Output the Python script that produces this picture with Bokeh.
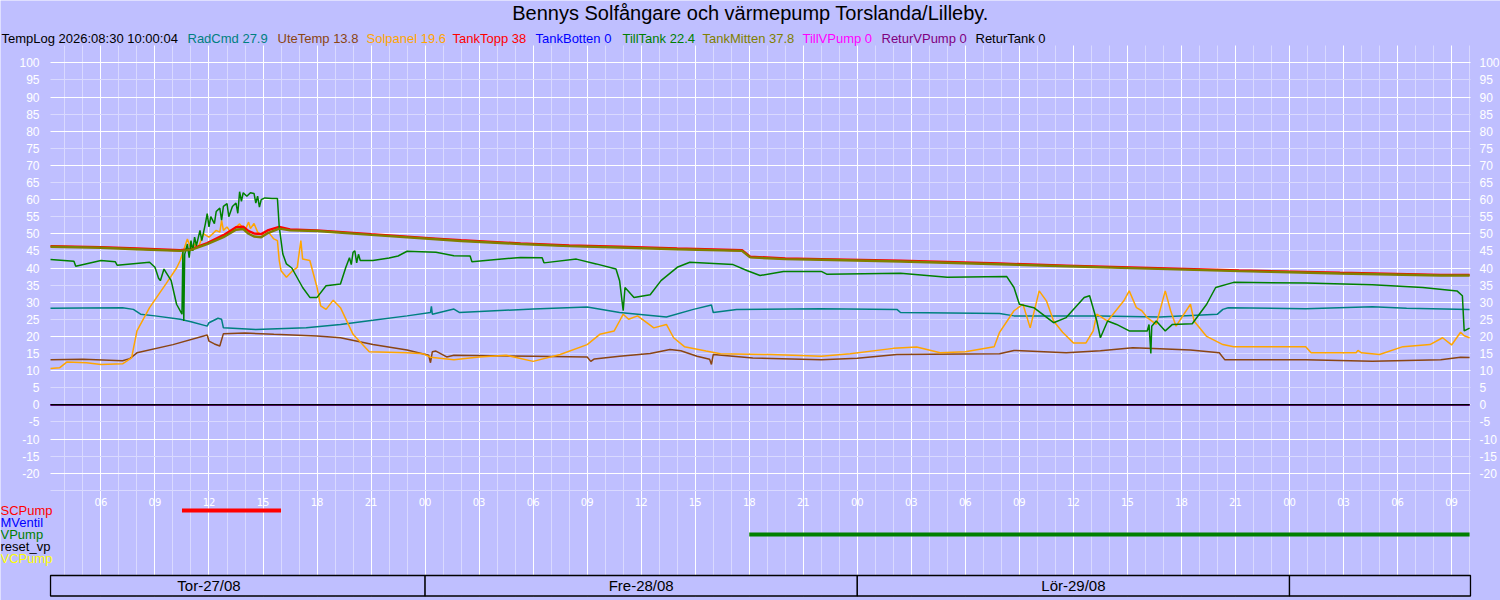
from bokeh.plotting import figure
from bokeh.models import Range1d, LinearAxis, FixedTicker, Label
from bokeh.core.properties import value
from bokeh.embed import file_html
from bokeh.resources import INLINE

# ---------------- data (time = hours since 2026-08-27 00:00) ----------------
title_text = "Bennys Solfångare och värmepump Torslanda/Lilleby."
templog_text = "TempLog 2026:08:30 10:00:04"

series_names = ["RadCmd", "UteTemp", "Solpanel", "TankTopp", "TankBotten",
                "TillTank", "TankMitten", "TillVPump", "ReturVPump", "ReturTank"]
series_colors = ["#008080", "#8B4513", "#FFA500", "#FF0000", "#0000FF",
                 "#008000", "#808000", "#FF00FF", "#800080", "#000000"]
last_values = [27.9, 13.8, 19.6, 38, 0, 22.4, 37.8, 0, 0, 0]

radcmd_t = [3.2, 5, 7.2, 7.8, 8.2, 9, 10.4, 11.0, 11.9, 12.0, 12.5, 12.7, 12.8, 14.6, 17.4, 19.3,
            21.1, 23, 24.3, 24.35, 24.4, 25.6, 25.9, 30, 33, 34.8, 37.4, 38.9, 39.9, 40.0, 41.3,
            46, 50.2, 50.4, 55.9, 56.7, 61.5, 64.8, 68, 68.3, 68.6, 72.9, 76.6, 78.5, 82]
radcmd_v = [28.2, 28.3, 28.4, 27.9, 26.5, 26.0, 25.0, 24.3, 23.0, 24.0, 25.3, 25.0, 22.5, 22.0, 22.5, 23.5,
            24.7, 26.0, 27.0, 28.8, 26.5, 28.0, 27.0, 28.0, 28.6, 27.0, 25.7, 27.9, 29.2, 27.0, 27.9,
            28.1, 27.9, 27.0, 26.7, 26.0, 26.0, 25.7, 26.5, 27.9, 28.4, 28.1, 28.7, 28.2, 27.9]

ute_t = [3.2, 5, 7.2, 7.6, 8.0, 10, 11.9, 12.0, 12.3, 12.6, 12.8, 14, 15.6, 18, 19.3, 21.1, 23,
         24.2, 24.3, 24.4, 24.6, 25.2, 25.6, 30, 33, 33.2, 33.4, 34.8, 36.5, 37.6, 38.2, 39.1, 39.8,
         39.9, 40.0, 42.2, 46, 48, 50.2, 55.9, 56.7, 59.6, 61.5, 63.3, 64.8, 66.5, 68.1, 68.4, 72.9,
         76.6, 80.4, 81.5, 82]
ute_v = [13.2, 13.3, 12.9, 13.5, 15.2, 17.6, 20.4, 18.6, 17.8, 17.2, 20.8, 21.0, 20.6, 20.1, 19.6, 17.6, 16.0,
         14.5, 12.3, 15.5, 15.7, 14.0, 14.5, 14.2, 14.0, 12.7, 13.4, 14.2, 15.0, 16.2, 15.8, 14.2, 13.3,
         11.8, 14.7, 13.7, 13.2, 13.6, 14.7, 14.9, 15.9, 15.2, 15.8, 16.7, 16.4, 16.0, 15.2, 13.2, 13.2,
         12.7, 13.2, 13.9, 13.8]

sol_t = [3.2, 3.7, 4.1, 5.2, 6, 7.2, 7.7, 8.0, 8.7, 9.6, 10.2, 10.4, 10.8, 11.0, 11.2, 11.4, 11.7,
         12.0, 12.4, 12.6, 12.7, 12.8, 13.0, 13.2, 13.5, 13.7, 14.0, 14.2, 14.3, 14.5, 14.7, 15.0,
         15.3, 15.6, 15.8, 15.9, 16.0, 16.3, 16.6, 16.9, 17.1, 17.2, 17.6, 18.0, 18.2, 18.5, 18.9,
         19.3, 20.0, 20.9, 23.0, 23.9, 24.3, 25.6, 27, 28.5, 30.0, 31.5, 33.0, 33.7, 34.5, 34.8,
         35.0, 35.3, 35.8, 36.7, 37.4, 37.8, 38.4, 39.6, 40.4, 43.2, 46, 47.6, 50, 51.3, 52.6, 54,
         55.6, 55.9, 56.7, 57.2, 57.6, 58.1, 58.5, 58.9, 59.4, 60.0, 60.7, 61.1, 61.3, 61.9, 62.8,
         63.1, 63.5, 63.8, 64.1, 64.6, 65.1, 65.4, 65.7, 66.5, 66.7, 67.4, 68.3, 68.9, 72.9, 73.2,
         75.7, 75.8, 76.0, 77, 78.3, 79.8, 80.5, 81.0, 81.5, 81.7, 82]
sol_v = [10.6, 10.8, 12.5, 12.3, 11.8, 12.0, 13.7, 21.6, 28.4, 35.3, 40.0, 42.2, 48.5, 45.6, 47.0, 46.0, 50.0,
         49.0, 51.0, 50.5, 53.9, 51.0, 52.0, 50.5, 52.0, 52.9, 51.0, 53.4, 51.5, 53.0, 50.5, 49.5,
         50.5, 48.5, 48.0, 42.2, 39.2, 37.3, 39.0, 40.2, 48.0, 42.6, 42.2, 34.3, 28.9, 27.9, 30.6,
         28.4, 20.6, 15.5, 15.2, 14.9, 13.9, 13.2, 14.0, 14.5, 12.7, 14.7, 17.6, 20.6, 21.6, 24.5,
         26.5, 25.0, 26.0, 22.5, 23.5, 19.6, 17.0, 15.7, 14.9, 14.7, 14.2, 14.9, 16.5, 16.9, 15.2, 15.5,
         17.0, 21.2, 27.5, 29.4, 22.5, 33.3, 30.4, 24.5, 21.2, 18.1, 18.1, 21.6, 26.5, 24.5, 30.4,
         33.3, 28.4, 27.5, 25.5, 23.5, 33.3, 27.5, 23.0, 29.4, 24.5, 20.0, 17.6, 17.0, 17.0, 15.2,
         15.2, 15.9, 15.2, 14.7, 17.0, 17.6, 19.6, 17.5, 21.2, 20.2, 19.6]

topp_t = [3.2, 6, 8, 10.4, 11.0, 11.9, 12.8, 13.5, 13.9, 14.2, 14.5, 14.9, 15.3, 15.9, 16.5, 18, 21,
          24.6, 26, 29.3, 32, 34.8, 38, 41.6, 42.05, 44, 46, 50.4, 55.9, 59.6, 63.7, 69.2, 74.8, 80.4, 82]
topp_v = [46.4, 46.1, 45.7, 45.2, 45.5, 47.3, 49.6, 51.9, 52.1, 50.8, 50.1, 49.9, 51.1, 52.0, 51.3, 51.0, 49.9,
          48.6, 48.1, 47.2, 46.6, 46.2, 45.7, 45.2, 43.3, 42.8, 42.6, 42.1, 41.3, 40.7, 40.1, 39.3, 38.6, 38.0, 38.0]

mitten_t = topp_t
mitten_v = [46.2, 45.9, 45.5, 45.0, 45.3, 47.0, 49.0, 51.2, 51.4, 50.0, 49.2, 49.0, 50.3, 51.5, 51.0, 50.8, 49.7,
            48.4, 47.9, 47.0, 46.4, 46.0, 45.5, 45.0, 43.1, 42.6, 42.4, 41.9, 41.1, 40.5, 39.9, 39.1, 38.4, 37.8, 37.8]

till_t = [3.2, 4.5, 4.6, 6, 6.8, 6.9, 8.7, 9.0, 9.2, 9.3, 9.5, 9.9, 10.2, 10.5, 10.55, 10.6, 10.65,
          10.8, 10.9, 11.0, 11.1, 11.2, 11.3, 11.5, 11.6, 11.8, 11.9, 12.0, 12.1, 12.3, 12.4, 12.6,
          12.7, 12.8, 13.0, 13.1, 13.3, 13.5, 13.6, 13.7, 13.8, 13.9, 14.1, 14.3, 14.5, 14.6, 14.7,
          14.8, 14.9, 15.1, 15.5, 15.8, 15.9, 16.1, 16.3, 16.6, 17.2, 17.6, 18.0, 18.5, 19.3, 19.6,
          19.8, 19.9, 20.0, 20.1, 20.2, 20.3, 20.4, 21.1, 22.0, 22.5, 23.0, 24.6, 25.6, 26.5, 26.6,
          29.3, 30.5, 30.6, 32.4, 33.5, 34.6, 34.8, 35.0, 35.1, 35.6, 36.5, 37.1, 38.0, 38.7, 41.1,
          41.9, 42.6, 43.9, 46, 46.3, 50.4, 53, 56.3, 56.7, 57.0, 57.8, 58.9, 59.6, 60.6, 60.9, 61.3,
          61.5, 61.9, 62.4, 63.1, 64.1, 64.2, 64.3, 64.35, 64.6, 65.1, 65.5, 66.6, 67.4, 67.9, 68.9,
          72.9, 76.6, 79.4, 81.3, 81.6, 81.7, 82]
till_v = [42.5, 42.0, 40.5, 42.2, 41.8, 40.8, 41.7, 40.2, 37.0, 36.3, 39.7, 36.3, 29.4, 26.5, 45.0, 24.5, 44.0,
          47.0, 43.0, 48.0, 45.0, 49.0, 46.5, 51.0, 48.0, 53.0, 55.9, 52.0, 55.0, 53.0, 56.5, 57.5,
          54.0, 58.0, 58.8, 55.0, 58.0, 59.0, 56.0, 62.3, 59.5, 62.0, 61.0, 62.0, 61.8, 59.0, 61.0,
          57.8, 60.0, 60.5, 60.3, 60.3, 52.0, 44.1, 41.2, 40.0, 34.3, 31.4, 31.4, 34.8, 35.3, 40.2,
          43.0, 41.0, 44.6, 45.0, 41.5, 44.0, 42.2, 42.2, 42.9, 43.5, 44.9, 44.6, 43.6, 43.5, 41.8,
          43.1, 43.0, 41.5, 42.6, 41.2, 39.7, 36.3, 27.5, 34.3, 31.4, 32.2, 36.3, 40.2, 41.7, 41.0,
          39.2, 37.8, 39.0, 39.0, 38.2, 38.5, 37.3, 37.5, 34.3, 29.4, 28.4, 24.0, 25.5, 31.4, 31.9, 24.5,
          19.6, 24.5, 23.5, 21.6, 21.6, 23.5, 15.0, 23.0, 24.5, 21.6, 23.5, 23.7, 29.4, 34.3, 35.8,
          35.6, 35.1, 34.3, 33.3, 31.9, 21.6, 22.4]

zero_t = [3.2, 82]
zero_v = [0, 0]

# pump status rows: (start hour, end hour) intervals when on
pump_names = ["SCPump", "MVentil", "VPump", "reset_vp", "VCPump"]
pump_colors = ["#FF0000", "#0000FF", "#008000", "#000000", "#FFFF00"]
pump_on_start = [[10.5], [], [42.0], [], []]
pump_on_end = [[16.0], [], [82.0], [], []]

# axis ticks and days
y_ticks = list(range(-20, 101, 5))
tick_hours = [6, 9, 12, 15, 18, 21, 24, 27, 30, 33, 36, 39, 42, 45, 48, 51, 54, 57, 60, 63, 66, 69, 72, 75, 78, 81]
tick_labels = ["06", "09", "12", "15", "18", "21", "00", "03", "06", "09", "12", "15", "18", "21",
               "00", "03", "06", "09", "12", "15", "18", "21", "00", "03", "06", "09"]
day_start = [0, 24, 48, 72]
day_labels = ["Tor-27/08", "Fre-28/08", "Lör-29/08", "Sön-30/08"]

# ---------------- layout ----------------
W, H = 1500, 600
BG = "#BFBFFF"
MINOR = "#D9D9FF"
PL, PT, PR, PB = 50, 45, 1470, 596     # plot area on the canvas (px)
PXH = 18.0                            # px per hour
PXV = 3.42                            # px per degree
ZERO_PY = 404.3                       # canvas y of 0 degrees
X0, X1 = 3.2, 82.05                   # hours at plot area left / right
Y1 = (ZERO_PY - PT) / PXV             # degrees at plot area top
Y0 = Y1 - (PB - PT) / PXV             # degrees at plot area bottom

# whole canvas is the frame, so that every text stays visible
XC0 = X0 - PL / PXH
XC1 = X1 + (W - PR) / PXH
YC1 = Y1 + PT / PXV
YC0 = Y0 - (H - PB) / PXV


def yd(py):
    return Y1 - (py - PT) / PXV


p = figure(width=W, height=H, x_range=Range1d(XC0, XC1), y_range=Range1d(YC0, YC1),
           output_backend="svg", toolbar_location=None,
           min_border_left=0, min_border_right=0, min_border_top=0, min_border_bottom=0,
           background_fill_color=BG, border_fill_color=BG, outline_line_color=None)

# grids, limited to the plot area
p.xgrid.ticker = FixedTicker(ticks=tick_hours,
                             minor_ticks=[h for h in range(4, 83) if h % 3 != 0])
p.xgrid.grid_line_color = "white"
p.xgrid.minor_grid_line_color = MINOR
p.xgrid.cross_bounds = (Y0, Y1)
p.ygrid.ticker = FixedTicker(ticks=list(range(-20, 101, 10)),
                             minor_ticks=list(range(-25, 100, 10)))
p.ygrid.grid_line_color = "white"
p.ygrid.minor_grid_line_color = MINOR
p.ygrid.cross_bounds = (X0, X1)

# x axis at -25, labels just below it
xa = p.xaxis[0]
xa.fixed_location = -25
xa.ticker = FixedTicker(ticks=tick_hours)
xa.major_label_overrides = {h: l for h, l in zip(tick_hours, tick_labels)}
xa.axis_line_color = None
xa.major_tick_line_color = None
xa.minor_tick_line_color = None
xa.major_label_text_color = "white"
xa.major_label_text_font = "DejaVu Sans"
xa.major_label_text_font_size = "10px"
xa.major_label_standoff = 2

# y axes on both edges of the plot area
ya = p.yaxis[0]
ya.fixed_location = X0
ra = LinearAxis(fixed_location=X1)
p.add_layout(ra, "right")
for ax, so in ((ya, 5), (ra, 3)):
    ax.ticker = FixedTicker(ticks=y_ticks)
    ax.major_label_overrides = {t: str(t) for t in y_ticks}
    ax.axis_line_color = None
    ax.major_tick_line_color = None
    ax.minor_tick_line_color = None
    ax.major_label_text_color = "white"
    ax.major_label_text_font = "Liberation Sans"
    ax.major_label_text_font_size = "12px"
    ax.major_label_standoff = so

# series
series_t = [radcmd_t, ute_t, sol_t, topp_t, zero_t, till_t, mitten_t, zero_t, zero_t, zero_t]
series_v = [radcmd_v, ute_v, sol_v, topp_v, zero_v, till_v, mitten_v, zero_v, zero_v, zero_v]
for t, v, c, n in zip(series_t, series_v, series_colors, series_names):
    lw = 2.4 if n in ("TankTopp", "TankMitten") else 1.5
    p.line(t, v, line_color=c, line_width=lw)

# pump rows
for i, (name, col) in enumerate(zip(pump_names, pump_colors)):
    row_py = 510 + 12 * i
    ry = yd(row_py)
    if pump_on_start[i]:
        p.segment(x0=pump_on_start[i], y0=[ry] * len(pump_on_start[i]),
                  x1=pump_on_end[i], y1=[ry] * len(pump_on_end[i]),
                  line_color=col, line_width=4)
    p.add_layout(Label(x=0, y=row_py, x_units="canvas", y_units="canvas", text=name,
                       text_color=col, text_font="Liberation Sans", text_font_size="13px",
                       text_baseline="middle", text_align="left"))

# day boxes
box_top, box_bot = yd(575), yd(595.5)
lefts = [max(d, X0) for d in day_start]
rights = [min(d + 24, X1) for d in day_start]
p.quad(left=lefts, right=rights, top=box_top, bottom=box_bot,
       fill_color=BG, line_color="black", line_width=1.3)
lbl_x = [d + 12 for d in day_start if d + 12 < X1]
lbl_t = [l for d, l in zip(day_start, day_labels) if d + 12 < X1]
p.text(x=lbl_x, y=[(box_top + box_bot) / 2] * len(lbl_x), text=lbl_t,
       text_font=value("Liberation Sans"), text_font_size="15px",
       text_align="center", text_baseline="middle", text_color="black")

# title
p.add_layout(Label(x=750, y=12, x_units="canvas", y_units="canvas", text=title_text,
                   text_align="center", text_baseline="middle", text_font="Liberation Sans",
                   text_font_size="20px", text_color="black"))

# header legend line
header_x = [1, 187, 277, 366, 452, 535, 622, 702, 802, 881, 975]
header_texts = [templog_text] + [f"{n} {v}" for n, v in zip(series_names, last_values)]
header_colors = ["black"] + series_colors
for hx, ht, hc in zip(header_x, header_texts, header_colors):
    p.add_layout(Label(x=hx, y=38, x_units="canvas", y_units="canvas", text=ht,
                       text_align="left", text_baseline="middle", text_font="Liberation Sans",
                       text_font_size="13px", text_color=hc))

open("out.html", "w").write(file_html(p, INLINE))
